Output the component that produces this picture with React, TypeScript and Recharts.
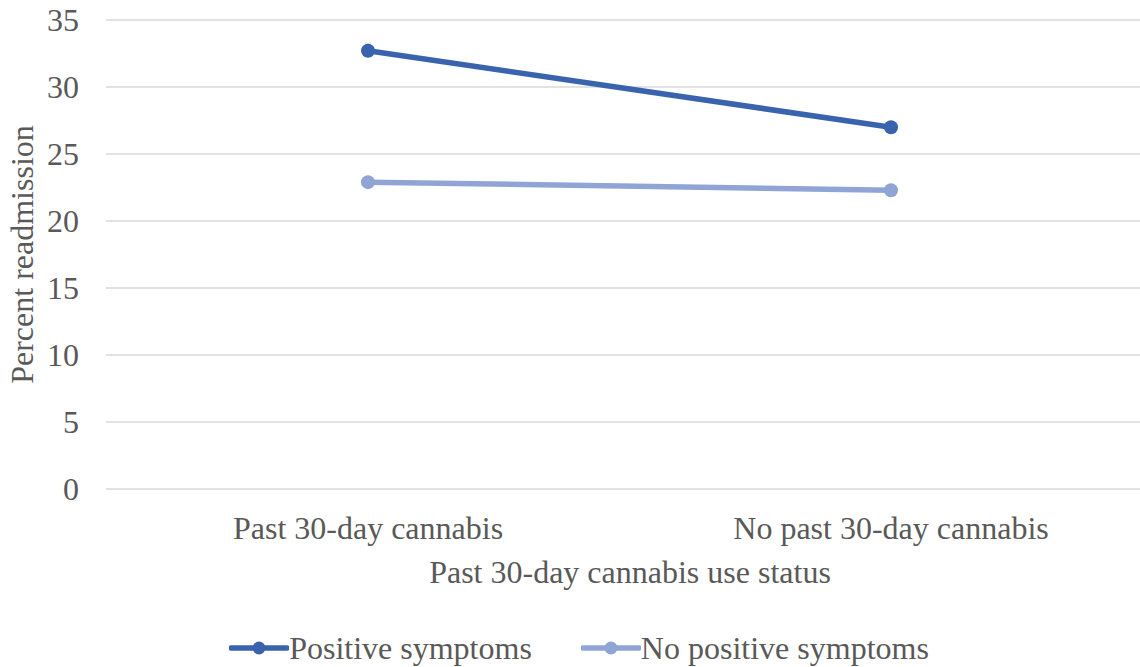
import React from 'react';
import { LineChart, Line, XAxis, YAxis, CartesianGrid, Legend, Label } from 'recharts';

const categories = ['Past 30-day cannabis', 'No past 30-day cannabis'];
const seriesNames = ['Positive symptoms', 'No positive symptoms'];
const positiveSymptoms = [32.7, 27.0];
const noPositiveSymptoms = [22.9, 22.3];
const yTicks = [0, 5, 10, 15, 20, 25, 30, 35];

const data = categories.map((status, i) => ({
  status,
  positive: positiveSymptoms[i],
  noPositive: noPositiveSymptoms[i],
}));

const FONT = '"Liberation Serif", "Times New Roman", serif';
const FS = 32;
const TEXT = '#595959';
const DARK = '#3A63AE';
const LIGHT = '#90A5D5';

function LegendContent({ payload }: any) {
  const items = [...(payload || [])].sort((a: any, b: any) => seriesNames.indexOf(a.value) - seriesNames.indexOf(b.value));
  return (
    <div style={{ height: 78, paddingTop: 40, paddingLeft: 18, boxSizing: 'border-box', display: 'flex', justifyContent: 'center', gap: 49, fontFamily: FONT, fontSize: FS, color: TEXT }}>
      {items.map((p: any) => (
        <div key={p.value} style={{ display: 'flex', alignItems: 'center', height: 38 }}>
          <svg width={60} height={20}>
            <line x1={2} y1={10} x2={58} y2={10} stroke={p.color} strokeWidth={5.5} strokeLinecap="round" />
            <circle cx={30} cy={10} r={6.5} fill={p.color} />
          </svg>
          <span>{p.value}</span>
        </div>
      ))}
    </div>
  );
}

export default function App() {
  return (
    <div>
      <style>{`body{margin:0;background:#fff}`}</style>
      <LineChart width={1140} height={667} data={data} margin={{ top: 20, right: 0, left: 0, bottom: 0 }}>
        <CartesianGrid stroke="#D9D9D9" strokeWidth={1.5} vertical={false} />
        <XAxis
          dataKey="status"
          scale="point"
          padding={{ left: 262, right: 249 }}
          axisLine={false}
          tickLine={false}
          tickSize={0}
          tickMargin={27}
          height={100}
          tick={{ fill: TEXT, fontSize: FS, fontFamily: FONT }}
        >
          <Label value="Past 30-day cannabis use status" position="insideBottom" offset={6} dx={7} fill={TEXT} fontSize={FS} fontFamily={FONT} />
        </XAxis>
        <YAxis
          domain={[0, 35]}
          ticks={yTicks}
          width={106}
          axisLine={false}
          tickLine={false}
          tickSize={0}
          tickMargin={27}
          tick={{ fill: TEXT, fontSize: FS, fontFamily: FONT }}
        >
          <Label
            content={({ viewBox }: any) => {
              const cx = viewBox.x + 22;
              const cy = viewBox.y + viewBox.height / 2;
              return (
                <text x={cx} y={cy} transform={`rotate(-90 ${cx} ${cy})`} textAnchor="middle" dominantBaseline="central" fill={TEXT} fontSize={FS} fontFamily={FONT}>
                  Percent readmission
                </text>
              );
            }}
          />
        </YAxis>
        <Legend verticalAlign="bottom" content={<LegendContent />} />
        <Line
          name={seriesNames[0]}
          dataKey="positive"
          stroke={DARK}
          strokeWidth={5.5}
          dot={{ r: 7, fill: DARK, stroke: DARK, strokeWidth: 0 }}
          isAnimationActive={false}
        />
        <Line
          name={seriesNames[1]}
          dataKey="noPositive"
          stroke={LIGHT}
          strokeWidth={5.5}
          dot={{ r: 7, fill: LIGHT, stroke: LIGHT, strokeWidth: 0 }}
          isAnimationActive={false}
        />
      </LineChart>
    </div>
  );
}
